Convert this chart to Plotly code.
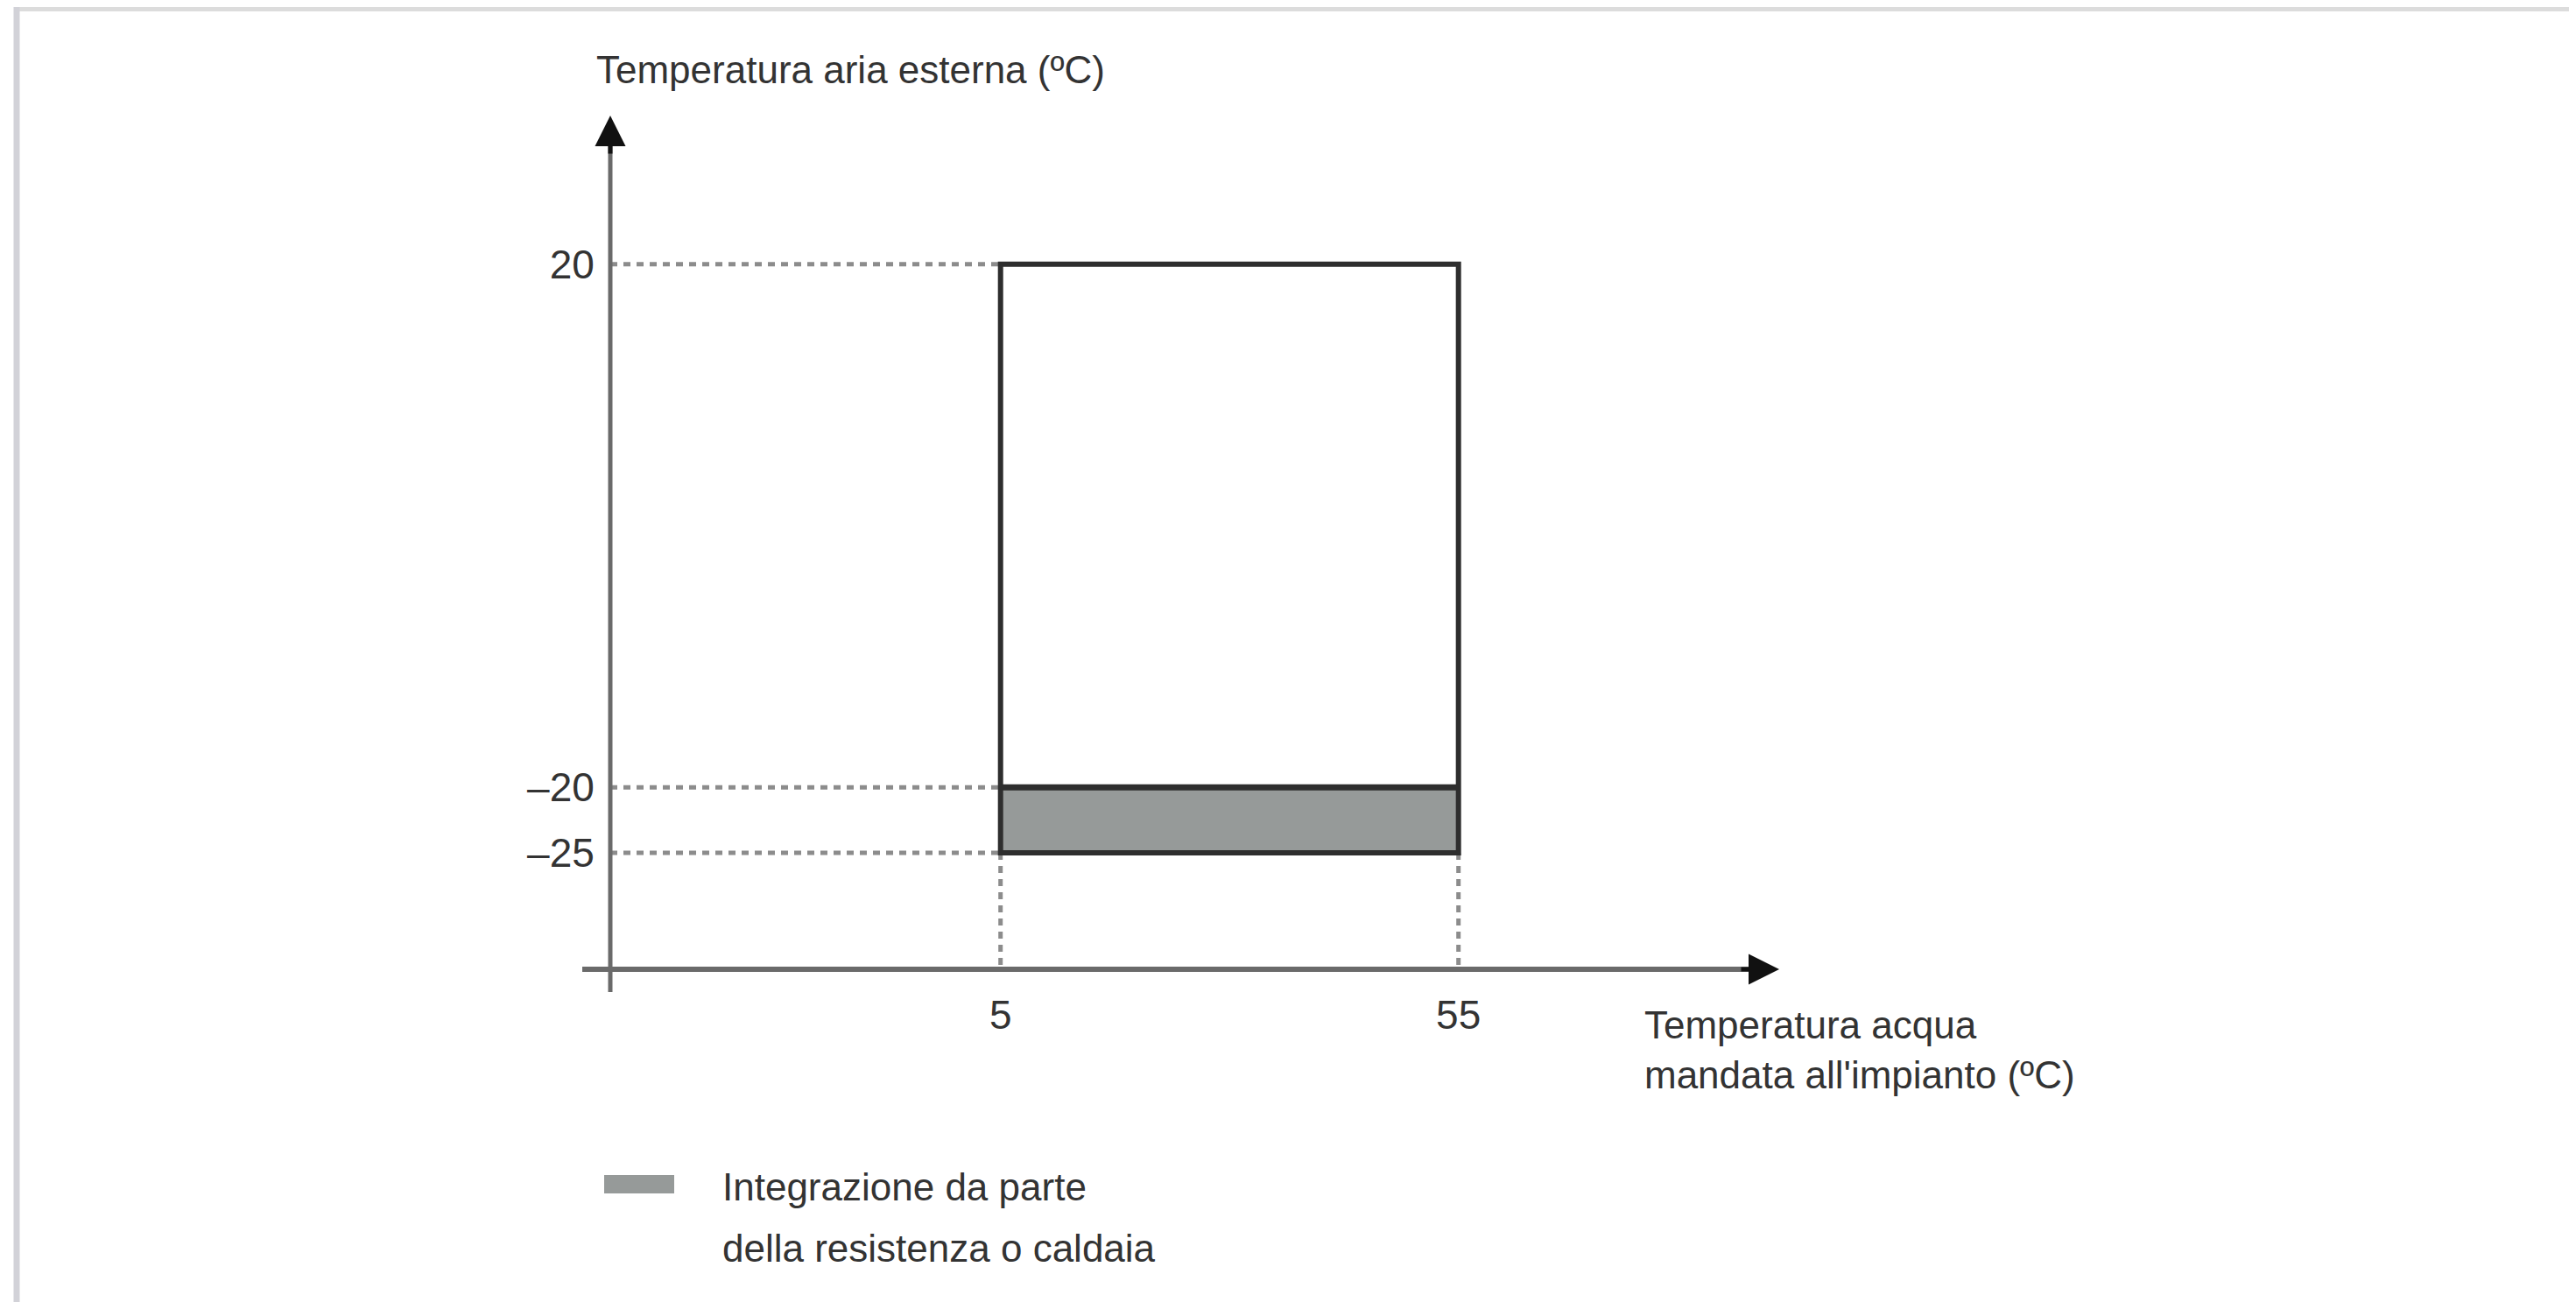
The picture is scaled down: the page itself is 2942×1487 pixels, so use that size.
import plotly.graph_objects as go

# ---------------- data ----------------
water_limits = [5, 55]                 # Temperatura acqua mandata (°C)
air_max = 20                           # upper limit of operating range
air_integration = -20                  # below this: integration
air_min = -25                          # lower limit
y_tick_vals = [20, -20, -25]
y_tick_text = ["20", "–20", "–25"]
x_tick_vals = [5, 55]
x_tick_text = ["5", "55"]
y_title = "Temperatura aria esterna (ºC)"
x_title = "Temperatura acqua<br>mandata all'impianto (ºC)"
legend_lines = ["Integrazione da parte", "della resistenza o caldaia"]

# ---------------- layout geometry ----------------
W, H = 2942, 1487
OFF = 8  # page body margin
FONT = "Liberation Sans, Arial, Helvetica, sans-serif"
TXT = "#333333"
AX = "#6a6a6a"
DARK = "#2e2e2e"
FILL = "#969a99"
DOT = "#8c8c8c"

# plot-area pixel box (axis origin to arrow tips), in screenshot pixels
px_left, px_right = 697, 2032
py_top, py_bottom = 132, 1107
x_range = [-37.61, 90.02]
y_range = [-33.90, 31.36]

def px(v):
    return (v - OFF) / W

def py(v):
    return 1 - (v - OFF) / H

fig = go.Figure()

# invisible trace to establish axes
fig.add_trace(go.Scatter(x=water_limits, y=[air_min, air_max], mode="markers",
                         marker=dict(opacity=0), hoverinfo="skip", showlegend=False))

shapes = []
# gray integration band
shapes.append(dict(type="rect", xref="x", yref="y", x0=water_limits[0], x1=water_limits[1],
                   y0=air_min, y1=air_integration, fillcolor=FILL, line=dict(width=0), layer="above"))
# dotted guide lines (horizontal)
for yv in [air_max, air_integration, air_min]:
    shapes.append(dict(type="line", xref="x", yref="y", x0=x_range[0], x1=water_limits[0],
                       y0=yv, y1=yv, line=dict(color=DOT, width=5, dash="8px,7px")))
# dotted guide lines (vertical)
for xv in water_limits:
    shapes.append(dict(type="line", xref="x", yref="y", x0=xv, x1=xv,
                       y0=air_min, y1=y_range[0], line=dict(color=DOT, width=5, dash="8px,7px")))
# outline of the operating range
shapes.append(dict(type="rect", xref="x", yref="y", x0=water_limits[0], x1=water_limits[1],
                   y0=air_min, y1=air_max, fillcolor="rgba(0,0,0,0)",
                   line=dict(color=DARK, width=6)))
shapes.append(dict(type="line", xref="x", yref="y", x0=water_limits[0], x1=water_limits[1],
                   y0=air_integration, y1=air_integration, line=dict(color=DARK, width=7)))
# axis lines (with small overhang past the origin)
shapes.append(dict(type="line", xref="paper", yref="paper", x0=px(px_left), x1=px(px_left),
                   y0=py(1133), y1=py(py_top + 25), line=dict(color=AX, width=5)))
shapes.append(dict(type="line", xref="paper", yref="paper", x0=px(665), x1=px(px_right - 25),
                   y0=py(py_bottom), y1=py(py_bottom), line=dict(color=AX, width=6)))
# frame (top and left border of the picture)
shapes.append(dict(type="line", xref="paper", yref="paper", x0=px(16), x1=1,
                   y0=py(10), y1=py(10), line=dict(color="#dcdcdc", width=6)))
shapes.append(dict(type="line", xref="paper", yref="paper", x0=px(19), x1=px(19),
                   y0=py(8), y1=0, line=dict(color="#d2d2d8", width=7)))
# legend swatch
shapes.append(dict(type="rect", xref="paper", yref="paper", x0=px(690), x1=px(770),
                   y0=py(1363), y1=py(1342), fillcolor=FILL, line=dict(width=0)))

annotations = []
# arrowheads
annotations.append(dict(xref="paper", yref="paper", x=px(px_left), y=py(py_top), ax=0, ay=45,
                        text="", showarrow=True, arrowhead=2, arrowsize=1.4, arrowwidth=5,
                        arrowcolor="#111111"))
annotations.append(dict(xref="paper", yref="paper", x=px(px_right), y=py(py_bottom), ax=-45, ay=0,
                        text="", showarrow=True, arrowhead=2, arrowsize=1.4, arrowwidth=5,
                        arrowcolor="#111111"))
# titles
annotations.append(dict(xref="paper", yref="paper", x=px(679), y=py(79), xanchor="left",
                        yanchor="middle", text=y_title, showarrow=False,
                        font=dict(family=FONT, size=44, color=TXT)))
annotations.append(dict(xref="paper", yref="paper", x=px(1876), y=py(1199), xanchor="left",
                        yanchor="middle", text=x_title, showarrow=False, align="left",
                        font=dict(family=FONT, size=44, color=TXT)))
# legend text
for i, line in enumerate(legend_lines):
    annotations.append(dict(xref="paper", yref="paper", x=px(823), y=py(1355 + 70 * i),
                            xanchor="left", yanchor="middle", text=line, showarrow=False,
                            font=dict(family=FONT, size=44, color=TXT)))

fig.update_layout(
    width=W, height=H,
    margin=dict(l=0, r=0, t=0, b=0),
    paper_bgcolor="white", plot_bgcolor="white",
    showlegend=False,
    shapes=shapes,
    annotations=annotations,
    xaxis=dict(domain=[px(px_left), px(px_right)], range=x_range, showgrid=False,
               zeroline=False, showline=False, tickmode="array", tickvals=x_tick_vals,
               ticktext=x_tick_text, ticks="outside", ticklen=12, tickcolor="rgba(0,0,0,0)",
               tickfont=dict(family=FONT, size=46, color=TXT), fixedrange=True),
    yaxis=dict(domain=[py(py_bottom), py(py_top)], range=y_range, showgrid=False,
               zeroline=False, showline=False, tickmode="array", tickvals=y_tick_vals,
               ticktext=y_tick_text, ticks="outside", ticklen=8, tickcolor="rgba(0,0,0,0)",
               tickfont=dict(family=FONT, size=46, color=TXT), fixedrange=True),
)

fig.write_html("out.html", config={"displayModeBar": False})
